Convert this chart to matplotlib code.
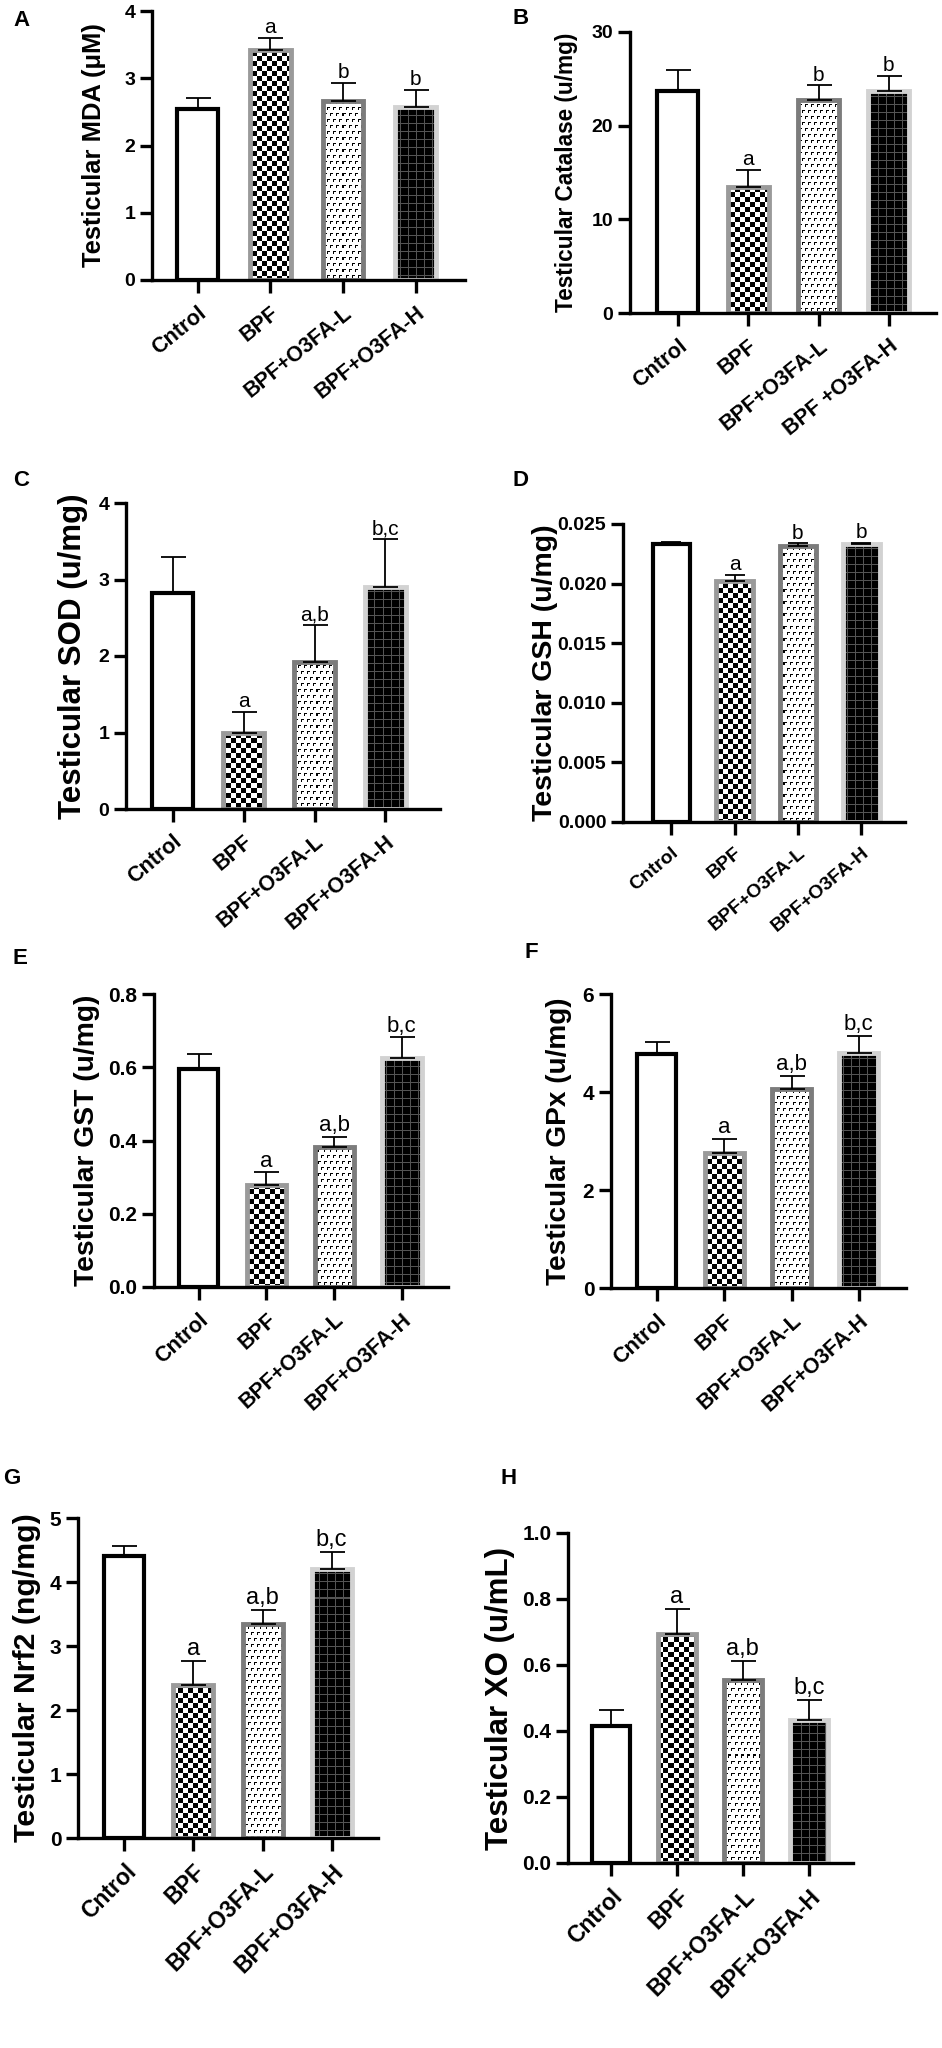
import numpy as np
import matplotlib
matplotlib.use('Agg')
import matplotlib.pyplot as plt

plt.rcParams['font.family'] = ['Liberation Sans', 'DejaVu Sans']
plt.rcParams['font.weight'] = 'bold'
plt.rcParams['axes.labelweight'] = 'bold'

# ---- data ----
groups = ['Cntrol', 'BPF', 'BPF+O3FA-L', 'BPF+O3FA-H']
groups_b = ['Cntrol', 'BPF', 'BPF+O3FA-L', 'BPF +O3FA-H']

mda = [2.54, 3.42, 2.66, 2.57]
mda_err = [0.16, 0.18, 0.27, 0.26]
catalase = [23.7, 13.4, 22.7, 23.7]
catalase_err = [2.2, 1.9, 1.6, 1.6]
sod = [2.82, 1.00, 1.92, 2.90]
sod_err = [0.47, 0.27, 0.48, 0.63]
gsh = [0.02329, 0.02022, 0.02318, 0.02329]
gsh_err = [0.0002, 0.0005, 0.0002, 0.00014]
gst = [0.595, 0.278, 0.383, 0.624]
gst_err = [0.041, 0.035, 0.027, 0.058]
gpx = [4.78, 2.75, 4.06, 4.79]
gpx_err = [0.24, 0.29, 0.27, 0.36]
nrf2 = [4.41, 2.39, 3.34, 4.21]
nrf2_err = [0.16, 0.38, 0.23, 0.26]
xo = [0.415, 0.695, 0.555, 0.433]
xo_err = [0.049, 0.075, 0.058, 0.061]

sig_ab = ['', 'a', 'b', 'b']
sig_abc = ['', 'a', 'a,b', 'b,c']

FIG_W, FIG_H = 942, 2048
fig = plt.figure(figsize=(FIG_W / 100, FIG_H / 100), dpi=100)


# small pixel tiles for the GraphPad-like fills (0 = black, 1 = white)
def checker_tile():
    t = np.ones((10, 10))
    t[:5, :5] = 0
    t[5:, 5:] = 0
    return t


def gamma_tile():
    half = np.ones((6, 6))
    half[0, 1:4] = 0
    half[1:3, 1] = 0
    return np.vstack([half, np.roll(half, 3, axis=1)])


def grid_tile():
    t = np.zeros((8, 8))
    t[0, :] = 0.33
    t[:, 0] = 0.33
    return t


tiles = [None, checker_tile(), gamma_tile(), grid_tile()]
face = ['white', 'none', 'none', 'none']
edges = ['black', '#9a9a9a', '#7c7c7c', '#d2d2d2']
edge_lw = [3.0, 3.5, 3.5, 3.5]


def panel(box, xlim, ymax, yticks, yticklabels, values, errors, letters, xlabels,
          ylabel, ylabel_x, ylabel_size, rot, xt_size, yt_size, let_size,
          capsize=9, width=0.58):
    left, right, top, bottom = box
    W, H = right - left, bottom - top
    ax = fig.add_axes([left / FIG_W, 1 - bottom / FIG_H, W / FIG_W, H / FIG_H])
    x = np.arange(len(values))
    bars = ax.bar(x, values, width=width, color=face, edgecolor=edges,
                  linewidth=edge_lw, zorder=2)
    # patterned fills, clipped to each bar
    for i, b in enumerate(bars):
        if tiles[i] is None:
            continue
        th, tw = tiles[i].shape
        img = np.tile(tiles[i], (H // th + 1, W // tw + 1))[:H, :W]
        im = ax.imshow(img, cmap='gray', vmin=0, vmax=1, extent=(xlim[0], xlim[1], 0, ymax),
                       origin='upper', interpolation='nearest', aspect='auto', zorder=1.5)
        im.set_clip_path(b)
    ax.errorbar(x, values, yerr=[np.zeros(len(values)), errors], fmt='none',
                ecolor='black', elinewidth=1.3, capsize=capsize, capthick=1.3, zorder=3)
    for xi, v, e, s in zip(x, values, errors, letters):
        if s:
            ax.annotate(s, (xi, v + e), xytext=(0, 0.5), textcoords='offset points',
                        ha='center', va='bottom', fontsize=let_size, fontweight='normal')
    ax.set_xlim(*xlim)
    ax.set_ylim(0, ymax)
    ax.set_yticks(yticks)
    ax.set_yticklabels(yticklabels)
    ax.set_xticks(x)
    ax.set_xticklabels(xlabels, rotation=rot, ha='right', va='top',
                       rotation_mode='anchor', fontsize=xt_size)
    ax.tick_params(direction='out', length=9, width=2.4, pad=3)
    ax.tick_params(axis='x', pad=7)
    ax.tick_params(axis='y', labelsize=yt_size)
    for s in ['top', 'right']:
        ax.spines[s].set_visible(False)
    for s in ['left', 'bottom']:
        ax.spines[s].set_linewidth(2.4)
    ax.set_ylabel(ylabel, fontsize=ylabel_size, fontweight='bold', va='center')
    ax.yaxis.set_label_coords((ylabel_x - left) / W, 0.5)
    return ax


panel((152, 465, 11, 280), (-0.63, 3.68), 4, [0, 1, 2, 3, 4], ['0', '1', '2', '3', '4'],
      mda, mda_err, sig_ab, groups, 'Testicular MDA (μM)', 94, 18.4, 39, 15.5, 14, 15,
      width=0.56)
panel((630, 936, 32, 313), (-0.68, 3.67), 30, [0, 10, 20, 30], ['0', '10', '20', '30'],
      catalase, catalase_err, sig_ab, groups_b, 'Testicular Catalase (u/mg)', 567, 16.3,
      39, 15.5, 14, 15)
panel((126, 440, 503, 809), (-0.66, 3.77), 4, [0, 1, 2, 3, 4], ['0', '1', '2', '3', '4'],
      sod, sod_err, sig_abc, groups, 'Testicular SOD (u/mg)', 73, 22.5, 40, 15.5, 14, 15)
panel((623, 905, 524, 822), (-0.76, 3.69), 0.025,
      [0, 0.005, 0.010, 0.015, 0.020, 0.025],
      ['0.000', '0.005', '0.010', '0.015', '0.020', '0.025'],
      gsh, gsh_err, sig_ab, groups, 'Testicular GSH (u/mg)', 545, 20.5, 40, 14, 14, 15,
      capsize=7)
panel((154, 448, 994, 1287), (-0.66, 3.68), 0.8, [0, 0.2, 0.4, 0.6, 0.8],
      ['0.0', '0.2', '0.4', '0.6', '0.8'],
      gst, gst_err, sig_abc, groups, 'Testicular GST (u/mg)', 87, 20.3, 42, 15.5, 15, 16)
panel((611, 906, 994, 1288), (-0.68, 3.70), 6, [0, 2, 4, 6], ['0', '2', '4', '6'],
      gpx, gpx_err, sig_abc, groups, 'Testicular GPx (u/mg)', 559, 20.2, 42, 15.5, 15, 16)
panel((78, 378, 1518, 1838), (-0.67, 3.67), 5, [0, 1, 2, 3, 4, 5],
      ['0', '1', '2', '3', '4', '5'],
      nrf2, nrf2_err, sig_abc, groups, 'Testicular Nrf2 (ng/mg)', 27, 21.8, 45, 16.5, 15, 17)
panel((568, 853, 1533, 1863), (-0.65, 3.67), 1.0, [0, 0.2, 0.4, 0.6, 0.8, 1.0],
      ['0.0', '0.2', '0.4', '0.6', '0.8', '1.0'],
      xo, xo_err, sig_abc, groups, 'Testicular XO (u/mL)', 500, 22.5, 45, 16.5, 15, 17)

# panel letters
for lab, px, py in [('A', 13, 10), ('B', 513, 8), ('C', 13, 470), ('D', 513, 470),
                    ('E', 13, 948), ('F', 524, 942), ('G', 3, 1468), ('H', 500, 1468)]:
    fig.text(px / FIG_W, 1 - py / FIG_H, lab, fontsize=16, fontweight='bold',
             ha='left', va='top')

fig.savefig('out.png', dpi=100)
